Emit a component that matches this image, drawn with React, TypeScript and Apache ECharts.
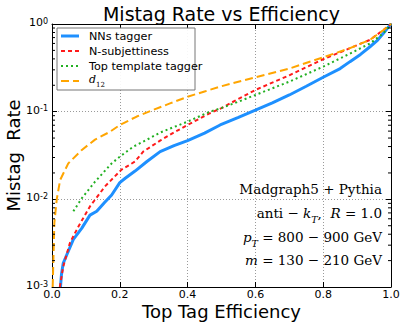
import React, { useEffect, useRef } from 'react';
import * as echarts from 'echarts';

// Top tag efficiency (x) and mistag rate (y) per tagger
const effNN = [0.025, 0.028, 0.033, 0.043, 0.063, 0.088, 0.112, 0.132, 0.155, 0.176, 0.2, 0.216, 0.245, 0.28, 0.319, 0.36, 0.4, 0.45, 0.496, 0.55, 0.6, 0.65, 0.7, 0.75, 0.8, 0.85, 0.879, 0.91, 0.938, 0.96, 0.977, 0.99, 1.0];
const rateNN = [0.001, 0.0014, 0.00186, 0.0023, 0.0035, 0.0047, 0.0066, 0.0073, 0.0092, 0.0112, 0.0155, 0.0174, 0.021, 0.027, 0.035, 0.041, 0.0468, 0.057, 0.0705, 0.086, 0.104, 0.126, 0.155, 0.195, 0.247, 0.31, 0.372, 0.45, 0.55, 0.65, 0.78, 0.9, 1.0];

const effNsub = [0.023, 0.028, 0.033, 0.053, 0.078, 0.112, 0.156, 0.205, 0.245, 0.269, 0.32, 0.36, 0.4, 0.437, 0.466, 0.5, 0.55, 0.6, 0.7, 0.8, 0.879, 0.938, 0.977, 1.0];
const rateNsub = [0.001, 0.0013, 0.0017, 0.0032, 0.0049, 0.0083, 0.014, 0.0218, 0.027, 0.035, 0.047, 0.058, 0.0705, 0.084, 0.096, 0.11, 0.14, 0.177, 0.26, 0.396, 0.53, 0.66, 0.85, 1.0];

const effTop = [0.063, 0.088, 0.127, 0.176, 0.2, 0.24, 0.269, 0.32, 0.4, 0.466, 0.5, 0.55, 0.6, 0.7, 0.8, 0.879, 0.938, 0.977, 1.0];
const rateTop = [0.0073, 0.0103, 0.0159, 0.0257, 0.0307, 0.0399, 0.0455, 0.058, 0.077, 0.1, 0.11, 0.13, 0.155, 0.22, 0.326, 0.46, 0.6, 0.78, 1.0];

const effD12 = [0.002, 0.004, 0.007, 0.014, 0.024, 0.048, 0.088, 0.127, 0.171, 0.2, 0.25, 0.299, 0.35, 0.4, 0.45, 0.5, 0.6, 0.7, 0.8, 0.879, 0.938, 0.977, 1.0];
const rateD12 = [0.001, 0.002, 0.0054, 0.01, 0.0166, 0.0257, 0.0366, 0.048, 0.059, 0.0705, 0.088, 0.105, 0.125, 0.148, 0.17, 0.195, 0.247, 0.31, 0.417, 0.53, 0.66, 0.85, 1.0];

const minorTickValues = [
  0.002, 0.003, 0.004, 0.005, 0.006, 0.007, 0.008, 0.009,
  0.02, 0.03, 0.04, 0.05, 0.06, 0.07, 0.08, 0.09,
  0.2, 0.3, 0.4, 0.5, 0.6, 0.7, 0.8, 0.9,
];

const seriesNames = ['NNs tagger', 'N-subjettiness', 'Top template tagger'];

export default function App() {
  const ref = useRef<HTMLDivElement>(null);
  useEffect(() => {
    const chart = echarts.init(ref.current!, null, { renderer: 'svg' });
    const zip = (xs: number[], ys: number[]) => xs.map((x, i) => [x, ys[i]]);
    const sans = 'DejaVu Sans';
    const serif = 'DejaVu Serif';
    const C_BLUE = '#1e90ff';
    const C_RED = '#ff1a1a';
    const C_GREEN = '#22b022';
    const C_ORANGE = '#ffa500';

    const axisLineStyle = { show: true, onZero: false, lineStyle: { color: '#000', width: 1 } };
    const tickStyle = { show: true, inside: true, length: 5, lineStyle: { color: '#000', width: 1 } };
    const gridStyle = { show: true, lineStyle: { color: '#9a9a9a', type: [1, 2], width: 1 } };

    const lineSeries = (name: string, data: number[][], color: string, width: number, dash: any, z: number) => ({
      name,
      type: 'line',
      data,
      showSymbol: false,
      symbol: 'none',
      clip: true,
      z,
      itemStyle: { color },
      lineStyle: { color, width, type: dash },
    });

    const FS = 13.5;
    const annRich = {
      n: { fontFamily: serif, fontSize: FS, fill: '#000', verticalAlign: 'bottom', padding: [0, 0, 4, 0] },
      i: { fontFamily: serif, fontStyle: 'italic', fontSize: FS, fill: '#000', verticalAlign: 'bottom', padding: [0, 0, 4, 0] },
      s: { fontFamily: serif, fontStyle: 'italic', fontSize: 9.5, fill: '#000', verticalAlign: 'bottom' },
    };

    const option: any = {
      animation: false,
      backgroundColor: '#fff',
      grid: { left: 52, right: 16, top: 24, bottom: 40, containLabel: false, outerBoundsMode: 'none' },
      xAxis: [
        {
          type: 'value', min: 0, max: 1, interval: 0.2, position: 'bottom',
          name: 'Top Tag Efficiency', nameLocation: 'middle', nameGap: 15, nameMoveOverlap: false,
          nameTextStyle: { fontFamily: sans, fontSize: 18, lineHeight: 18, color: '#000' },
          axisLine: axisLineStyle, axisTick: tickStyle,
          axisLabel: { formatter: (v: number) => v.toFixed(1), fontFamily: sans, fontSize: 11, lineHeight: 10, color: '#000', margin: 2, showMinLabel: true, showMaxLabel: true },
          splitLine: gridStyle,
        },
        {
          type: 'value', min: 0, max: 1, interval: 0.2, position: 'top',
          axisLine: axisLineStyle, axisTick: tickStyle,
          axisLabel: { show: false }, splitLine: { show: false },
        },
      ],
      yAxis: [
        {
          type: 'log', logBase: 10, min: 0.001, max: 1, position: 'left',
          name: 'Mistag  Rate', nameLocation: 'middle', nameGap: 29.5, nameRotate: 90, nameMoveOverlap: false,
          nameTextStyle: { fontFamily: sans, fontSize: 18, color: '#000' },
          axisLine: axisLineStyle, axisTick: tickStyle,
          axisLabel: {
            formatter: (v: number) => `{b|10}{e|${Math.round(Math.log10(v))}}`,
            margin: 4, showMinLabel: true, showMaxLabel: true,
            rich: {
              b: { fontFamily: sans, fontSize: 11, color: '#000', lineHeight: 14, verticalAlign: 'top' },
              e: { fontFamily: sans, fontSize: 8, color: '#000', lineHeight: 6, verticalAlign: 'top' },
            },
          },
          splitLine: gridStyle,
        },
        {
          type: 'log', logBase: 10, min: 0.001, max: 1, position: 'right',
          axisLine: axisLineStyle, axisTick: tickStyle,
          axisLabel: { show: false }, splitLine: { show: false },
        },
      ],
      series: [
        lineSeries(seriesNames[0], zip(effNN, rateNN), C_BLUE, 3, 'solid', 3),
        lineSeries(seriesNames[1], zip(effNsub, rateNsub), C_RED, 2, [4, 3], 4),
        lineSeries(seriesNames[2], zip(effTop, rateTop), C_GREEN, 2, [2, 3], 5),
        lineSeries('d12', zip(effD12, rateD12), C_ORANGE, 2, [8, 4], 6),
        {
          type: 'custom', coordinateSystem: 'cartesian2d', xAxisIndex: 0, yAxisIndex: 0, silent: true, z: 10,
          data: minorTickValues.map((v) => [0, v]),
          renderItem: (_p: any, api: any) => {
            const v = api.value(1);
            const l = api.coord([0, v]);
            const r = api.coord([1, v]);
            return {
              type: 'group',
              children: [
                { type: 'line', shape: { x1: l[0], y1: l[1], x2: l[0] + 3, y2: l[1] }, style: { stroke: '#000', lineWidth: 1 } },
                { type: 'line', shape: { x1: r[0] - 3, y1: r[1], x2: r[0], y2: r[1] }, style: { stroke: '#000', lineWidth: 1 } },
              ],
            };
          },
        },
      ],
      graphic: [
        {
          type: 'text', x: 221.5, y: 14, z: 20,
          style: { text: 'Mistag Rate vs Efficiency', fontFamily: sans, fontSize: 19, fill: '#000', align: 'center', verticalAlign: 'middle' },
        },
        // legend
        {
          type: 'rect', z: 20, shape: { x: 57, y: 28, width: 138, height: 62 },
          style: { fill: 'rgba(255,255,255,0.92)', stroke: '#777', lineWidth: 1 },
        },
        { type: 'line', z: 21, shape: { x1: 61, y1: 36, x2: 79, y2: 36 }, style: { stroke: C_BLUE, lineWidth: 3 } },
        { type: 'line', z: 21, shape: { x1: 61, y1: 51, x2: 79, y2: 51 }, style: { stroke: C_RED, lineWidth: 2, lineDash: [4, 3] } },
        { type: 'line', z: 21, shape: { x1: 61, y1: 66, x2: 79, y2: 66 }, style: { stroke: C_GREEN, lineWidth: 2, lineDash: [2, 3] } },
        { type: 'line', z: 21, shape: { x1: 61, y1: 81, x2: 79, y2: 81 }, style: { stroke: C_ORANGE, lineWidth: 2, lineDash: [8, 4] } },
        { type: 'text', z: 21, x: 89, y: 36, style: { text: seriesNames[0], fontFamily: sans, fontSize: 11.2, fill: '#000', verticalAlign: 'middle' } },
        { type: 'text', z: 21, x: 89, y: 51, style: { text: seriesNames[1], fontFamily: sans, fontSize: 11.2, fill: '#000', verticalAlign: 'middle' } },
        { type: 'text', z: 21, x: 89, y: 66, style: { text: seriesNames[2], fontFamily: sans, fontSize: 11.2, fill: '#000', verticalAlign: 'middle' } },
        {
          type: 'text', z: 21, x: 89, y: 81,
          style: {
            text: '{i|d}{s|12}', verticalAlign: 'middle',
            rich: {
              i: { fontFamily: serif, fontStyle: 'italic', fontSize: 11, fill: '#000', verticalAlign: 'bottom', padding: [0, 0, 3, 0] },
              s: { fontFamily: serif, fontSize: 7, fill: '#000', verticalAlign: 'bottom' },
            },
          },
        },
        // annotation
        {
          type: 'text', z: 21, x: 382, y: 189,
          style: { text: 'Madgraph5 + Pythia', fontFamily: serif, fontSize: FS, fill: '#000', align: 'right', verticalAlign: 'middle' },
        },
        {
          type: 'text', z: 21, x: 382, y: 215,
          style: { text: '{n|anti − }{i|k}{s|T}{n|,  }{i|R}{n| = 1.0}', align: 'right', verticalAlign: 'middle', rich: annRich },
        },
        {
          type: 'text', z: 21, x: 382, y: 239,
          style: { text: '{i|p}{s|T}{n| = 800 − 900 GeV}', align: 'right', verticalAlign: 'middle', rich: annRich },
        },
        {
          type: 'text', z: 21, x: 382, y: 262,
          style: { text: '{i|m}{n| = 130 − 210 GeV}', align: 'right', verticalAlign: 'middle', rich: annRich },
        },
      ],
    };
    chart.setOption(option);
    return () => chart.dispose();
  }, []);
  return <div ref={ref} style={{ position: 'fixed', left: 0, top: 0, width: 407, height: 327 }} />;
}
